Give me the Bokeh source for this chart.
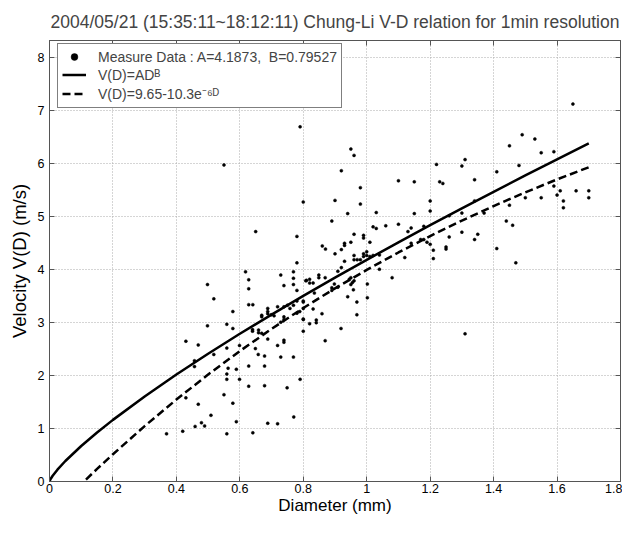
from bokeh.plotting import figure
from bokeh.models import (Range1d, FixedTicker, LinearAxis, Legend, LegendItem,
                          CustomJSTickFormatter)
from bokeh.embed import file_html
from bokeh.resources import INLINE

FONT = "Liberation Sans"

meas_d = [0.79, 0.55, 0.80, 0.65, 0.78, 0.78,
          0.95, 0.96, 0.92, 1.22, 1.10, 1.15, 1.23, 1.24, 0.98, 0.90, 0.98, 1.20, 1.20, 0.94,
          1.03, 1.15, 0.89, 1.02, 1.03, 1.06, 1.10, 0.96, 0.99, 0.99, 1.14, 1.13, 1.18, 0.86,
          0.87, 0.93, 0.93, 0.95, 0.92, 0.90, 1.01, 0.96, 0.96, 0.97, 0.98, 0.99, 0.99, 1.00,
          1.00, 1.01, 1.02, 1.04, 0.92, 0.93, 1.12, 1.21, 1.21, 1.19, 1.20, 1.25, 1.25, 1.26,
          1.17, 1.18, 1.14,
          1.65, 1.49, 1.53, 1.45, 1.55, 1.59, 1.31, 1.30, 1.48, 1.41, 1.34, 1.59, 1.61, 1.66,
          1.70, 1.70, 1.60, 1.55, 1.50, 1.62, 1.62, 1.34, 1.45, 1.30, 1.26, 1.37, 1.44, 1.46,
          1.30, 1.35, 1.34, 1.41, 1.47, 1.31,
          0.618, 0.628, 0.628, 0.769, 0.769, 0.769, 0.729, 0.739, 0.78, 0.808, 0.498, 0.518,
          0.628, 0.641, 0.688, 0.688, 0.688, 0.669, 0.669, 0.699, 0.719, 0.739, 0.708, 0.75,
          0.739, 0.739, 0.769, 0.78, 0.80, 0.80, 0.78, 0.578, 0.498, 0.559, 0.578, 0.64, 0.64,
          0.659, 0.659, 0.669, 0.688, 0.80, 0.43, 0.469, 0.599, 0.559, 0.649, 0.719, 0.739,
          0.739, 0.658, 0.678, 0.518, 0.628, 0.678, 0.729, 0.769, 0.457, 0.457, 0.563, 0.559,
          0.559, 0.589, 0.599, 0.79, 0.628, 0.678, 0.749, 0.43, 0.55, 0.469, 0.578, 0.509,
          0.77, 0.479, 0.489, 0.459, 0.589, 0.688, 0.719, 0.369, 0.42, 0.559, 0.641,
          0.909, 0.81, 0.82, 0.82, 0.831, 0.849, 0.849, 0.869, 0.945, 0.95, 0.96, 1.002, 1.04,
          1.08, 0.898, 0.909, 0.89, 0.89, 0.95, 0.958, 0.94, 0.969, 0.969, 0.80, 0.80, 0.831,
          0.859, 0.841, 0.841, 0.82, 0.80, 0.919, 0.869,
          0.758, 0.789, 0.729, 1.002, 0.835, 0.955]
meas_v = [6.70, 5.98, 5.28, 4.72, 4.63, 4.13,
          6.28, 6.16, 5.87, 5.99, 5.68, 5.66, 5.66, 5.63, 5.55, 5.31, 5.24, 5.30, 5.11, 5.06,
          5.08, 5.06, 4.92, 4.81, 4.78, 4.83, 4.86, 4.67, 4.65, 4.60, 4.79, 4.72, 4.82, 4.45,
          4.39, 4.50, 4.46, 4.52, 4.38, 4.30, 4.52, 4.27, 4.19, 4.19, 4.19, 4.30, 4.25, 4.27,
          4.34, 4.25, 4.27, 4.28, 4.04, 4.16, 4.23, 4.37, 4.21, 4.52, 4.48, 4.43, 4.39, 4.62,
          4.57, 4.57, 4.50,
          7.13, 6.55, 6.47, 6.34, 6.21, 6.23, 6.08, 5.96, 5.97, 5.85, 5.70, 5.58, 5.49, 5.49,
          5.49, 5.36, 5.41, 5.36, 5.36, 5.30, 5.17, 5.30, 5.22, 5.07, 5.02, 5.07, 4.92, 4.84,
          4.71, 4.67, 4.57, 4.40, 4.13, 2.79,
          3.96, 3.81, 3.64, 3.96, 3.84, 3.72, 3.90, 3.70, 3.61, 3.79, 3.72, 3.45,
          3.34, 3.34, 3.27, 3.21, 3.17, 3.14, 3.11, 3.15, 3.30, 3.30, 3.13, 3.33,
          3.11, 3.06, 3.33, 3.41, 3.41, 3.06, 3.18, 3.21, 2.94, 2.97, 2.89, 2.87, 2.84,
          2.86, 2.81, 2.80, 2.69, 2.84, 2.65, 2.58, 2.57, 2.52, 2.51, 2.57, 2.67,
          2.63, 2.40, 2.37, 2.40, 2.18, 2.18, 2.35, 2.35, 2.28, 2.17, 2.14, 2.03,
          1.93, 2.12, 1.93, 1.93, 1.80, 1.81, 1.77, 1.58, 1.64, 1.46, 1.48, 1.25,
          1.22, 1.11, 1.05, 1.04, 1.13, 1.10, 1.09, 0.90, 0.95, 0.90, 0.92,
          3.97, 3.80, 3.82, 3.75, 3.75, 3.90, 3.85, 3.85, 3.82, 3.85, 3.79, 3.73, 4.01,
          3.85, 3.73, 3.67, 3.66, 3.61, 3.72, 3.62, 3.49, 3.39, 3.15, 3.39, 3.27, 3.26,
          3.17, 3.05, 3.00, 2.98, 3.07, 2.89, 2.66,
          3.27, 3.21, 3.01, 3.47, 3.56, 3.76]

# ---- fitted curve V(D)=A*D^B ----
power_d = [0, 0.002, 0.005, 0.01, 0.025, 0.05, 0.1, 0.15, 0.2, 0.3, 0.4, 0.5, 0.6,
           0.7, 0.8, 0.9, 1.0, 1.1, 1.2, 1.3, 1.4, 1.5, 1.6, 1.7]
power_v = [0, 0.030, 0.062, 0.108, 0.223, 0.387, 0.671, 0.926, 1.164, 1.607, 2.021,
           2.413, 2.790, 3.153, 3.506, 3.851, 4.187, 4.518, 4.841, 5.159, 5.472, 5.781,
           6.085, 6.386]

# ---- curve V(D)=9.65-10.3e^(-6D) ----
exp_d = [0.115, 0.15, 0.2, 0.3, 0.4, 0.5, 0.6, 0.7, 0.8, 0.9, 1.0, 1.1, 1.2, 1.3,
         1.4, 1.5, 1.6, 1.7]
exp_v = [0.037, 0.237, 0.515, 1.047, 1.548, 2.020, 2.464, 2.882, 3.277, 3.648, 3.997,
         4.326, 4.636, 4.928, 5.203, 5.462, 5.706, 5.936]

x_ticks = [0, 0.2, 0.4, 0.6, 0.8, 1.0, 1.2, 1.4, 1.6, 1.8]
x_tick_labels = ["0", "0.2", "0.4", "0.6", "0.8", "1", "1.2", "1.4", "1.6", "1.8"]
y_ticks = [0, 1, 2, 3, 4, 5, 6, 7, 8]
y_tick_labels = ["0", "1", "2", "3", "4", "5", "6", "7", "8"]

title_text = "2004/05/21 (15:35:11~18:12:11) Chung-Li V-D relation for 1min resolution"
legend_labels = ["Measure Data : A=4.1873,  B=0.79527",
                 "V(D)=AD\u1d2e",
                 "V(D)=9.65-10.3e\u207b\u2076\u1d30"]

AX = "#555555"
Y_TOP = 8.33

p = figure(width=622, height=517, x_range=Range1d(0, 1.8), y_range=Range1d(0, Y_TOP),
           output_backend="svg", toolbar_location=None,
           min_border_left=49, min_border_right=2, min_border_top=40, min_border_bottom=35,
           background_fill_color="white", border_fill_color="white")
p.outline_line_color = AX

p.title.text = title_text
p.title.text_font = FONT
p.title.text_font_size = "17.5px"
p.title.text_font_style = "normal"
p.title.align = "center"
p.title.standoff = 17


def fmt(tick_values, tick_texts):
    return CustomJSTickFormatter(args=dict(tv=tick_values, tl=tick_texts), code="""
        let idx = 0, best = 1e9;
        for (let k = 0; k < tv.length; k++) {
            const dd = Math.abs(tv[k] - tick);
            if (dd < best) { best = dd; idx = k; }
        }
        return tl[idx];
    """)


def style_axis(ax, tick_values):
    ax.ticker = FixedTicker(ticks=tick_values)
    ax.axis_line_color = AX
    ax.major_tick_line_color = AX
    ax.major_tick_in = 5
    ax.major_tick_out = 0
    ax.minor_tick_line_color = None
    ax.major_label_text_font = FONT
    ax.major_label_text_font_size = "12.5px"
    ax.major_label_text_color = "black"
    ax.axis_label_text_font = FONT
    ax.axis_label_text_font_size = "17px"
    ax.axis_label_text_font_style = "normal"
    ax.axis_label_text_color = "black"


xa = p.xaxis[0]
style_axis(xa, x_ticks)
xa.formatter = fmt(x_ticks, x_tick_labels)
xa.axis_label = "Diameter (mm)"
xa.major_label_standoff = 2
xa.axis_label_standoff = 0

ya = p.yaxis[0]
style_axis(ya, y_ticks)
ya.formatter = fmt(y_ticks, y_tick_labels)
ya.axis_label = "Velocity V(D) (m/s)"
ya.axis_label_text_font_size = "18.5px"
ya.major_label_standoff = 5
ya.axis_label_standoff = 5

for loc, tvals in (("right", y_ticks), ("above", x_ticks)):
    ax = LinearAxis()
    style_axis(ax, tvals)
    ax.major_label_text_font_size = "0px"
    ax.major_label_standoff = 0
    ax.formatter = fmt(tvals, [""] * len(tvals))
    p.add_layout(ax, loc)

p.xgrid.ticker = FixedTicker(ticks=x_ticks)
p.ygrid.ticker = FixedTicker(ticks=y_ticks)
for g in (p.xgrid, p.ygrid):
    g.grid_line_color = "#aaaaaa"
    g.grid_line_dash = "1 2"
    g.grid_line_width = 1

sc = p.scatter(meas_d, meas_v, size=3, marker="circle", fill_color="black",
               line_color="black", line_width=0.5)
l1 = p.line(power_d, power_v, line_color="black", line_width=2.5)
l2 = p.line(exp_d, exp_v, line_color="black", line_width=2.5, line_dash="8 4")

legend = Legend(items=[LegendItem(label=legend_labels[0], renderers=[sc]),
                       LegendItem(label=legend_labels[1], renderers=[l1]),
                       LegendItem(label=legend_labels[2], renderers=[l2])],
                location=(8, 373), margin=0, padding=4, spacing=1,
                glyph_width=24, glyph_height=17, label_height=17, label_standoff=12,
                label_text_font=FONT, label_text_font_size="14px",
                border_line_color="black", border_line_width=1,
                background_fill_color="white", background_fill_alpha=1.0)
p.add_layout(legend)

open("out.html", "w").write(file_html(p, INLINE))
